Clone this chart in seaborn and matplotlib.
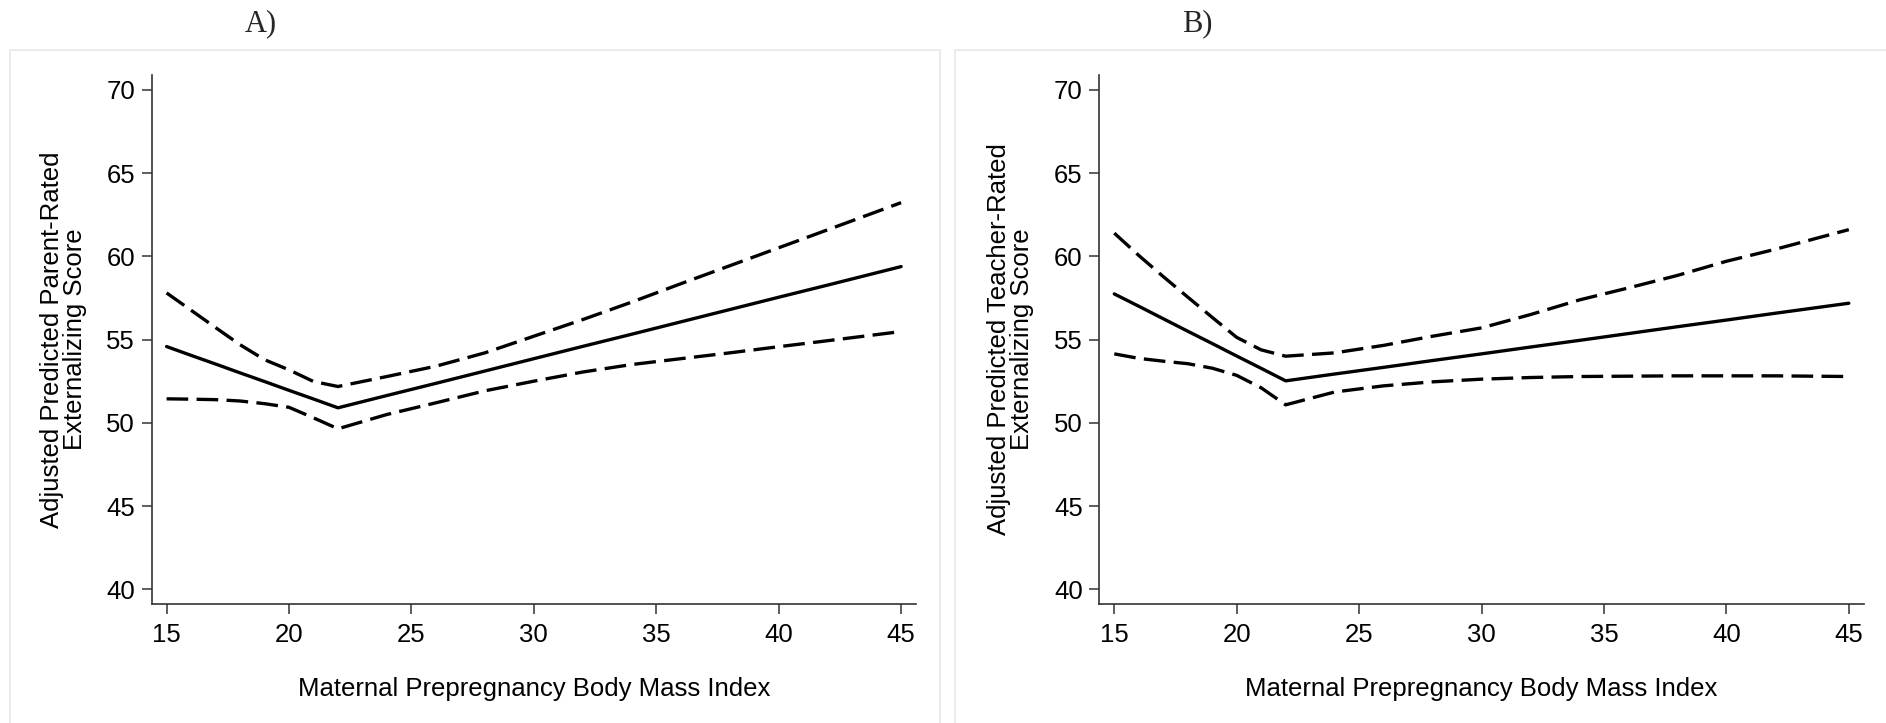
import numpy as np
import pandas as pd
import seaborn as sns
import matplotlib.pyplot as plt
from matplotlib.patches import Rectangle

sns.set_style("white")
plt.rcParams['font.family'] = ['Liberation Sans', 'DejaVu Sans']

# BMI grid the margins were evaluated at
bmi = [15, 16, 17, 18, 19, 20, 21, 22, 24, 26, 28, 30, 32, 34, 36, 38, 40, 42, 45]

# panel A - parent rated
parent_est = [54.58, 54.05, 53.53, 53.00, 52.48, 51.95, 51.43, 50.90, 51.64, 52.37,
              53.11, 53.85, 54.59, 55.32, 56.06, 56.80, 57.54, 58.27, 59.38]
parent_hi = [57.80, 56.76, 55.72, 54.69, 53.79, 53.18, 52.48, 52.18, 52.78, 53.40,
             54.20, 55.20, 56.20, 57.25, 58.35, 59.43, 60.51, 61.59, 63.22]
parent_lo = [51.44, 51.42, 51.39, 51.31, 51.15, 50.93, 50.30, 49.64, 50.50, 51.20,
             51.92, 52.50, 53.05, 53.50, 53.85, 54.20, 54.57, 54.93, 55.48]

# panel B - teacher rated
teacher_est = [57.74, 57.00, 56.25, 55.50, 54.76, 54.01, 53.27, 52.52, 52.93, 53.33,
               53.74, 54.14, 54.55, 54.95, 55.36, 55.77, 56.17, 56.58, 57.18]
teacher_hi = [61.39, 60.05, 58.78, 57.55, 56.33, 55.13, 54.38, 54.00, 54.20, 54.65,
              55.20, 55.70, 56.50, 57.38, 58.10, 58.85, 59.70, 60.42, 61.60]
teacher_lo = [54.14, 53.87, 53.70, 53.55, 53.28, 52.85, 52.10, 51.08, 51.85, 52.22,
              52.46, 52.62, 52.72, 52.78, 52.80, 52.82, 52.82, 52.82, 52.78]

panel_titles = ["A)", "B)"]
ylabels = ["Adjusted Predicted Parent-Rated\nExternalizing Score",
           "Adjusted Predicted Teacher-Rated\nExternalizing Score"]
xlabel = "Maternal Prepregnancy Body Mass Index"
xticks = [15, 20, 25, 30, 35, 40, 45]
yticks = [40, 45, 50, 55, 60, 65, 70]


def long_df(est, hi, lo):
    frames = []
    for name, vals in [("est", est), ("hi", hi), ("lo", lo)]:
        frames.append(pd.DataFrame({"bmi": bmi, "score": vals, "band": name}))
    return pd.concat(frames, ignore_index=True)


fig = plt.figure(figsize=(18.86, 7.23), dpi=100)

# light panel frames behind each graph
for x0, w in [(10, 930), (955, 940)]:
    fig.patches.append(Rectangle((x0 / 1886, -0.01), w / 1886, 1.01 - 50 / 723,
                                 transform=fig.transFigure, fill=False,
                                 edgecolor="#e8e8e8", linewidth=1.2))

panels = [long_df(parent_est, parent_hi, parent_lo),
          long_df(teacher_est, teacher_hi, teacher_lo)]
lefts = [0.0804, 0.5829]
title_x = [0.1384, 0.6347]

for i, df in enumerate(panels):
    ax = fig.add_axes([lefts[i], 0.1646, 0.4053, 0.7320])
    sns.lineplot(data=df, x="bmi", y="score", style="band",
                 dashes={"est": "", "hi": (6.5, 2.5), "lo": (6.5, 2.5)},
                 color="black", linewidth=2.4, estimator=None, legend=False, ax=ax)
    ax.set_xlim(14.39, 45.61)
    ax.set_ylim(39.12, 70.9)
    ax.set_xticks(xticks)
    ax.set_yticks(yticks)
    ax.tick_params(axis="both", direction="out", length=7, width=1.1,
                   color="#333333", labelsize=18.5, labelcolor="black",
                   bottom=True, left=True)
    ax.tick_params(axis="x", pad=7)
    ax.tick_params(axis="y", pad=5)
    for side in ["top", "right"]:
        ax.spines[side].set_visible(False)
    for side in ["left", "bottom"]:
        ax.spines[side].set_color("#333333")
        ax.spines[side].set_linewidth(1.2)
    ax.set_xlabel(xlabel, fontsize=18.5, labelpad=21, color="black")
    ax.set_ylabel(ylabels[i], fontsize=18.5, labelpad=14, linespacing=0.95,
                  color="black")
    fig.text(title_x[i], 1 - 24 / 723, panel_titles[i], family="Liberation Serif",
             fontsize=22, ha="center", va="center")

fig.savefig("out.png", dpi=100)
